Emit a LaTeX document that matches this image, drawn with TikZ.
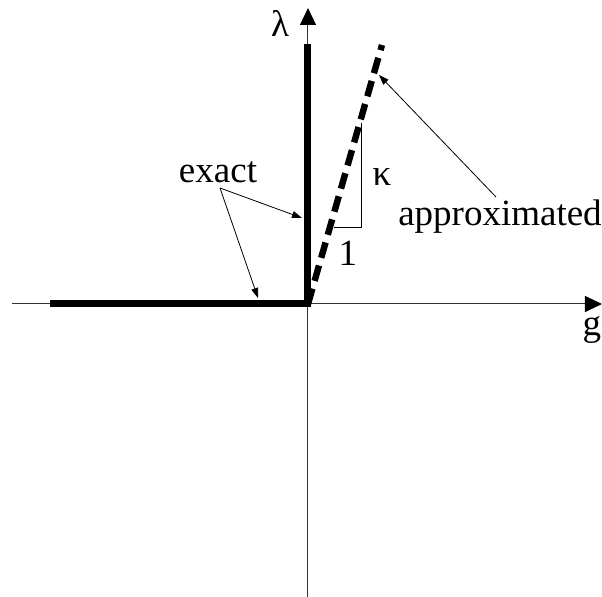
\documentclass[tikz,border=0pt]{standalone}
\usepackage{fontspec}
\setmainfont{Liberation Serif}
\usepackage{tikz}
\usetikzlibrary{arrows.meta,positioning,calc}

\tikzset{
  axisline/.style={line width=0.5pt,black!80,-{Triangle[length=8.5pt,width=8pt,black]}},
  exactline/.style={line width=3.5pt,line cap=butt,line join=miter},
  approxline/.style={line width=3.2pt,dash pattern=on 8pt off 4pt},
  pointer/.style={line width=0.4pt,-{Triangle[length=5pt,width=3.5pt]}},
  lbl/.style={inner sep=0pt,font=\fontsize{18.5}{22}\selectfont}
}

\begin{document}
\begin{tikzpicture}[x=0.5pt, y=-0.5pt]
  \useasboundingbox (0,0) rectangle (602,597);
  % axes
  \coordinate (O) at (308,304);
  \draw[axisline] (12,304) -- (602,304);
  \draw[axisline] (308,597) -- (308,8);
  \node[lbl] (lam) at (280,23) {λ};
  \node[lbl] (g) at (592,330) {g};
  % exact solution (thick) and linear approximation (dashed)
  \draw[exactline] (50,304) -- (O) -- (308,44);
  \draw[approxline] (O) -- (382,45);
  % slope triangle
  \draw[line width=0.5pt] (334,228) -- (362,228) -- (362,123);
  \node[lbl] (kap) at (382,177) {κ};
  \node[lbl] (one) at (348,253) {1};
  % labels with pointers
  \node[lbl] (exact) at (218,172) {exact};
  \coordinate (ex0) at (220,188);
  \coordinate (exV) at (302,218);
  \coordinate (exH) at (258,298);
  \draw[pointer] (ex0) -- (exV);
  \draw[pointer] (ex0) -- (exH);
  \node[lbl] (approx) at (500,217) {approximated};
  \coordinate (ap0) at (496,197);
  \coordinate (apD) at (379,75);
  \draw[pointer] (ap0) -- (apD);
\end{tikzpicture}
\end{document}
